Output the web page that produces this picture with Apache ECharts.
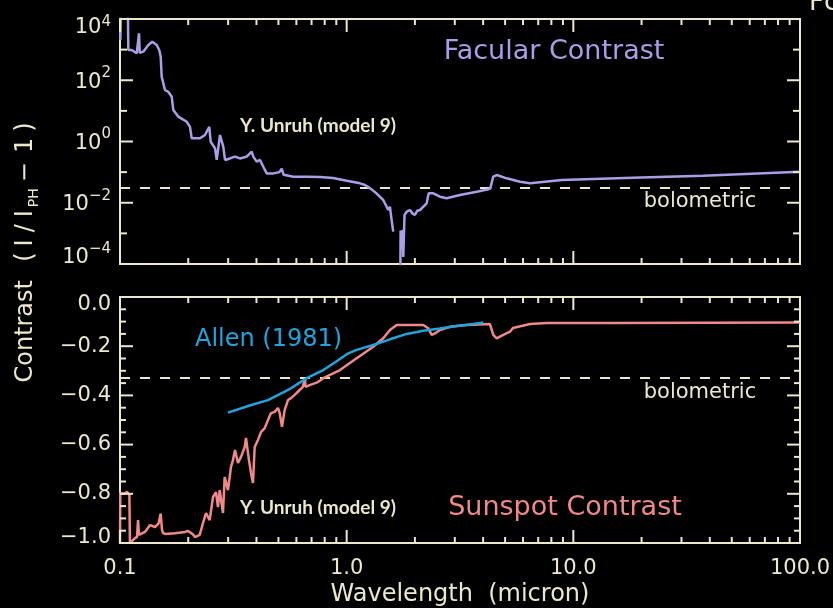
<!DOCTYPE html>
<html>
<head>
<meta charset="utf-8">
<script src="https://cdn.jsdelivr.net/npm/echarts@6/dist/echarts.min.js"></script>
<style>
  html, body { margin: 0; padding: 0; background: #000; }
  #chart { width: 833px; height: 608px; }
</style>
</head>
<body>
<div id="chart"></div>
<script>
// ---- Facular contrast (Unruh model 9), wavelength in micron ----
const facularWavelength = [
  0.1004, 0.1010, 0.1083, 0.1088, 0.1126, 0.1185, 0.1203, 0.1213, 0.1222, 0.1267,
  0.1333, 0.1388, 0.1452, 0.1490, 0.1512, 0.1527, 0.1579, 0.1633, 0.1691, 0.1718,
  0.1807, 0.1969, 0.2036, 0.2072, 0.2254, 0.2371, 0.2477, 0.2512, 0.2625, 0.2671,
  0.2762, 0.2855, 0.2906, 0.3057, 0.3216, 0.3383, 0.3622, 0.3810, 0.3873, 0.4009,
  0.4146, 0.4287, 0.4438, 0.4745, 0.505, 0.517, 0.527, 0.5815, 0.6659, 0.7624,
  0.87, 1.0, 1.145, 1.204, 1.267, 1.356, 1.450, 1.526, 1.552, 1.579,
  1.605, 1.62, 1.725, 1.730, 1.745, 1.768, 1.777, 1.80, 1.84, 1.90,
  1.95, 2.00, 2.05, 2.106, 2.254, 2.30, 2.41, 2.58, 2.76, 3.16,
  3.75, 4.21, 4.30, 4.43, 4.59, 5.08, 5.82, 6.44, 8.9, 18.3,
  37.3, 100
];
const facularContrast = [
  2100, 30000, 30000, 973, 973, 760, 770, 3400, 780, 856,
  1416, 1815, 1416, 973, 587, 131, 48, 42, 29, 10.7,
  6.5, 4.4, 3.0, 1.27, 1.27, 1.63, 3.0, 0.98, 0.60, 0.25,
  1.63, 0.68, 0.25, 0.28, 0.32, 0.28, 0.32, 0.47, 0.32, 0.22,
  0.25, 0.15, 0.091, 0.091, 0.10, 0.13, 0.082, 0.071, 0.071, 0.069,
  0.064, 0.052, 0.043, 0.038, 0.030, 0.020, 0.0123, 0.0058, 0.0074, 0.0027,
  0.00114, null, 0.00005, 0.00125, 0.0003, 0.0013, 0.00017, 0.0040, 0.0051, 0.0058,
  0.0045, 0.0040, 0.0055, 0.0058, 0.0096, 0.0204, 0.0204, 0.0158, 0.0140, 0.0179,
  0.0230, 0.0275, 0.0290, 0.0710, 0.0805, 0.0628, 0.0486, 0.0432, 0.0553, 0.0658,
  0.0764, 0.103
];

// ---- Sunspot contrast (Unruh model 9) ----
const sunspotWavelength = [
  0.1000, 0.1003, 0.1041, 0.1074, 0.1100, 0.1106, 0.1118, 0.1165, 0.1189, 0.1201,
  0.1213, 0.1289, 0.1356, 0.1427, 0.1480, 0.1512, 0.1532, 0.1547, 0.1579, 0.1748,
  0.1935, 0.1995, 0.2099, 0.2142, 0.2247, 0.2323, 0.2395, 0.2487, 0.2572, 0.2652,
  0.2705, 0.2753, 0.2846, 0.2896, 0.2995, 0.3087, 0.3151, 0.3216, 0.3315, 0.3418,
  0.3549, 0.3596, 0.3707, 0.3783, 0.3861, 0.3928, 0.4062, 0.4188, 0.4348, 0.4496,
  0.4635, 0.4812, 0.4977, 0.5064, 0.5183, 0.5328, 0.5510, 0.5680, 0.5897, 0.6204,
  0.6400, 0.6545, 0.6580, 0.6865, 0.7470, 0.7885, 0.9342, 1.107, 1.310, 1.450,
  1.552, 1.661, 1.840, 2.177, 2.291, 2.371, 2.452, 2.580, 2.856, 3.383,
  4.287, 4.434, 4.590, 4.908, 5.253, 5.416, 6.437, 7.646, 14.95, 100
];
const sunspotContrast = [
  -1.0, -0.797, -0.80, -0.792, -0.805, -1.0, -0.995, -0.98, -0.975, -0.907,
  -0.967, -0.955, -0.927, -0.935, -0.92, -0.88, -0.947, -0.959, -0.963, -0.96,
  -0.955, -0.951, -0.965, -0.976, -0.967, -0.919, -0.878, -0.907, -0.813, -0.793,
  -0.854, -0.785, -0.878, -0.732, -0.785, -0.691, -0.663, -0.622, -0.675, -0.650,
  -0.610, -0.573, -0.663, -0.715, -0.756, -0.610, -0.581, -0.549, -0.533, -0.500,
  -0.472, -0.467, -0.451, -0.472, -0.528, -0.459, -0.419, -0.411, -0.398, -0.378,
  -0.366, -0.329, -0.365, -0.358, -0.346, -0.330, -0.297, -0.249, -0.202, -0.168,
  -0.134, -0.114, -0.114, -0.114, -0.127, -0.154, -0.148, -0.134, -0.121, -0.114,
  -0.110, -0.154, -0.168, -0.154, -0.141, -0.126, -0.110, -0.106, -0.106, -0.104
];

// ---- Allen (1981) sunspot contrast ----
const allenWavelength = [
  0.2995, 0.3795, 0.4496, 0.5328, 0.5680, 0.6305, 0.6659, 0.7885, 0.8727, 1.0164,
  1.107, 1.310, 1.552, 1.840, 2.177, 2.580, 3.056, 3.617, 4.006
];
const allenContrast = [
  -0.470, -0.439, -0.419, -0.385, -0.371, -0.344, -0.330, -0.297, -0.270, -0.229,
  -0.215, -0.195, -0.172, -0.150, -0.137, -0.128, -0.118, -0.110, -0.104
];

// Bolometric contrast levels
const bolometricFacular = [0.03];
const bolometricSunspot = [-0.33];

// Tick positions
const xMajorTicks = [0.1, 1, 10, 100];
const xMinorTicks = [];
[0.1, 1, 10].forEach(d => { for (let k = 2; k <= 9; k++) xMinorTicks.push(d * k); });
const facYMajorTicks = [1e-4, 1e-2, 1, 1e2, 1e4];
const facYMinorTicks = [1e-3, 1e-1, 1e1, 1e3];
const spotYMajorTicks = [-1.0, -0.8, -0.6, -0.4, -0.2, 0.0];
const spotYMinorTicks = [];
for (let i = 1; i < 20; i++) { if (i % 4 !== 0) spotYMinorTicks.push(-i * 0.05); }

const FONT = 'DejaVu Sans';
const CREAM = '#ebe8cc';
const LAVENDER = '#a99fe6';
const SALMON = '#f0898a';
const SKY = '#22a3dc';

const zip = (xs, ys) => xs.map((x, i) => [x, ys[i] == null ? '-' : ys[i]]);

// tick items: [x, y, kind(0 = x tick, 1 = y tick), length]
function buildTicks(yRef, yMajor, yMinor, yMajorLen, yMinorLen) {
  const out = [];
  xMajorTicks.forEach(v => out.push([v, yRef, 0, 13]));
  xMinorTicks.forEach(v => out.push([v, yRef, 0, 6]));
  yMajor.forEach(v => out.push([1, v, 1, yMajorLen]));
  yMinor.forEach(v => out.push([1, v, 1, yMinorLen]));
  return out;
}

function renderTick(params, api) {
  const cs = params.coordSys;
  const kind = api.value(2);
  const len = api.value(3);
  const style = { stroke: CREAM, lineWidth: 2 };
  const p = api.coord([api.value(0), api.value(1)]);
  if (kind === 0) {
    const x = p[0];
    return { type: 'group', children: [
      { type: 'line', shape: { x1: x, y1: cs.y + cs.height, x2: x, y2: cs.y + cs.height - len }, style },
      { type: 'line', shape: { x1: x, y1: cs.y, x2: x, y2: cs.y + len }, style }
    ]};
  }
  const y = p[1];
  return { type: 'group', children: [
    { type: 'line', shape: { x1: cs.x, y1: y, x2: cs.x + len, y2: y }, style },
    { type: 'line', shape: { x1: cs.x + cs.width, y1: y, x2: cs.x + cs.width - len, y2: y }, style }
  ]};
}

const LABEL_SIZE = 21;
const base = { fontFamily: FONT, color: CREAM };
const expRich = {
  bM: Object.assign({ fontSize: LABEL_SIZE, height: 20, lineHeight: 20, verticalAlign: 'bottom' }, base),
  sM: Object.assign({ fontSize: 15, height: 10, lineHeight: 24, verticalAlign: 'top' }, base),
  bT: Object.assign({ fontSize: LABEL_SIZE, height: 20, lineHeight: 20, verticalAlign: 'bottom' }, base),
  sT: Object.assign({ fontSize: 15, height: 44, lineHeight: 38, verticalAlign: 'top' }, base),
  bB: Object.assign({ fontSize: LABEL_SIZE, height: 20, lineHeight: 32, verticalAlign: 'top' }, base),
  sB: Object.assign({ fontSize: 15, height: 2, lineHeight: 2, verticalAlign: 'top' }, base)
};
const linRich = {
  top: Object.assign({ fontSize: LABEL_SIZE, height: 20, lineHeight: 36, verticalAlign: 'bottom' }, base),
  mid: Object.assign({ fontSize: LABEL_SIZE, height: 20, lineHeight: 20, verticalAlign: 'middle' }, base),
  bot: Object.assign({ fontSize: LABEL_SIZE, height: 20, lineHeight: 30, verticalAlign: 'top' }, base)
};

function text(str, x, y, opt) {
  return {
    type: 'text', x, y, silent: true,
    style: Object.assign({
      text: str, fill: CREAM, fontFamily: FONT, fontSize: 20,
      align: 'center', verticalAlign: 'middle'
    }, opt || {})
  };
}

const sub = { fontFamily: FONT, fontSize: 24, fill: CREAM };
const yTitle = {
  type: 'text', x: 26, y: 251, rotation: Math.PI / 2, silent: true,
  style: {
    text: 'Contrast  {p|(}{i|I}{sl|/}{i|I}{s|PH}{m|−}{o|1}{p|)}',
    fill: CREAM, fontFamily: FONT, fontSize: 24, lineHeight: 30,
    align: 'center', verticalAlign: 'middle',
    rich: {
      p: Object.assign({ padding: [0, 3, 0, 3] }, sub),
      i: Object.assign({ padding: [0, 3, 0, 3] }, sub),
      sl: Object.assign({ padding: [0, 4, 0, 4] }, sub),
      m: Object.assign({ padding: [0, 6, 0, 4] }, sub),
      o: Object.assign({ padding: [0, 3, 0, 3] }, sub),
      s: { fontFamily: FONT, fontSize: 14, fill: CREAM, verticalAlign: 'bottom', height: 14, lineHeight: 14, padding: [0, 2, 0, 0] }
    }
  }
};

const chart = echarts.init(document.getElementById('chart'), null, { renderer: 'canvas' });

const option = {
  backgroundColor: '#000',
  animation: false,
  grid: [
    { left: 120, top: 19, width: 680, height: 245, show: true, borderColor: CREAM, borderWidth: 2,
      backgroundColor: 'transparent', containLabel: false, outerBoundsMode: 'none' },
    { left: 120, top: 297, width: 680, height: 246, show: true, borderColor: CREAM, borderWidth: 2,
      backgroundColor: 'transparent', containLabel: false, outerBoundsMode: 'none' }
  ],
  xAxis: [
    { gridIndex: 0, type: 'log', logBase: 10, min: 0.1, max: 100,
      axisLine: { show: false }, axisTick: { show: false }, axisLabel: { show: false }, splitLine: { show: false } },
    { gridIndex: 1, type: 'log', logBase: 10, min: 0.1, max: 100,
      axisLine: { show: false }, axisTick: { show: false }, splitLine: { show: false },
      axisLabel: { show: true, color: CREAM, fontFamily: FONT, fontSize: LABEL_SIZE, margin: 15,
        showMinLabel: true, showMaxLabel: true,
        formatter: v => Number(v).toFixed(1) },
      name: 'Wavelength  (micron)', nameLocation: 'middle', nameGap: 40,
      nameTextStyle: { color: CREAM, fontFamily: FONT, fontSize: 24 } }
  ],
  yAxis: [
    { gridIndex: 0, type: 'log', logBase: 10, min: 1e-4, max: 1e4, splitNumber: 8,
      axisLine: { show: false }, axisTick: { show: false }, splitLine: { show: false },
      axisLabel: { show: true, margin: 9, showMinLabel: true, showMaxLabel: true,
        color: CREAM, fontFamily: FONT, fontSize: LABEL_SIZE, rich: expRich,
        formatter: v => {
          const e = Math.round(Math.log10(v));
          if (e % 2 !== 0) return '';
          const tag = e === 4 ? 'T' : (e === -4 ? 'B' : 'M');
          const sup = e < 0 ? '−' + (-e) : String(e);
          return '{b' + tag + '|10}{s' + tag + '|' + sup + '}';
        } } },
    { gridIndex: 1, type: 'value', min: -1, max: 0, interval: 0.2,
      axisLine: { show: false }, axisTick: { show: false }, splitLine: { show: false },
      axisLabel: { show: true, margin: 9, showMinLabel: true, showMaxLabel: true,
        color: CREAM, fontFamily: FONT, fontSize: LABEL_SIZE, rich: linRich,
        formatter: v => {
          const s = Math.abs(v) < 1e-9 ? '0.0' : (v < 0 ? '−' : '') + Math.abs(v).toFixed(1);
          const tag = Math.abs(v) < 1e-9 ? 'top' : (v <= -0.999 ? 'bot' : 'mid');
          return '{' + tag + '|' + s + '}';
        } } }
  ],
  series: [
    { type: 'line', xAxisIndex: 0, yAxisIndex: 0, data: zip(facularWavelength, facularContrast),
      symbol: 'none', smooth: false, clip: true, connectNulls: false, z: 4,
      lineStyle: { color: LAVENDER, width: 2.5 },
      markLine: { silent: true, symbol: 'none', label: { show: false }, z: 3,
        lineStyle: { color: CREAM, width: 2, type: [10, 10] },
        data: bolometricFacular.map(v => ({ yAxis: v })) } },
    { type: 'line', xAxisIndex: 1, yAxisIndex: 1, data: zip(sunspotWavelength, sunspotContrast),
      symbol: 'none', smooth: false, clip: true, z: 4,
      lineStyle: { color: SALMON, width: 2.5 },
      markLine: { silent: true, symbol: 'none', label: { show: false }, z: 3,
        lineStyle: { color: CREAM, width: 2, type: [10, 10] },
        data: bolometricSunspot.map(v => ({ yAxis: v })) } },
    { type: 'line', xAxisIndex: 1, yAxisIndex: 1, data: zip(allenWavelength, allenContrast),
      symbol: 'none', smooth: false, clip: true, z: 5,
      lineStyle: { color: SKY, width: 2.5 } },
    { type: 'custom', xAxisIndex: 0, yAxisIndex: 0, silent: true, z: 6,
      encode: { x: 0, y: 1 },
      data: buildTicks(1, facYMajorTicks, facYMinorTicks, 13, 7), renderItem: renderTick },
    { type: 'custom', xAxisIndex: 1, yAxisIndex: 1, silent: true, z: 6,
      encode: { x: 0, y: 1 },
      data: buildTicks(-0.5, spotYMajorTicks, spotYMinorTicks, 13, 6), renderItem: renderTick }
  ],
  graphic: [
    text('Facular Contrast', 554, 52, { fill: LAVENDER, fontSize: 27 }),
    text('Y. Unruh (model 9)', 240, 126, { fontFamily: 'Lato', fontWeight: 'bold', fontSize: 19, align: 'left' }),
    text('bolometric', 700, 202, { fontSize: 21 }),
    text('Allen (1981)', 195, 340, { fill: SKY, fontSize: 24, align: 'left' }),
    text('bolometric', 700, 393, { fontSize: 21 }),
    text('Y. Unruh (model 9)', 240, 508, { fontFamily: 'Lato', fontWeight: 'bold', fontSize: 19, align: 'left' }),
    text('Sunspot Contrast', 565, 508, { fill: SALMON, fontSize: 27 }),
    text('Fc', 809, 3, { fontSize: 26, align: 'left' }),
    yTitle
  ]
};

chart.setOption(option);
</script>
</body>
</html>
